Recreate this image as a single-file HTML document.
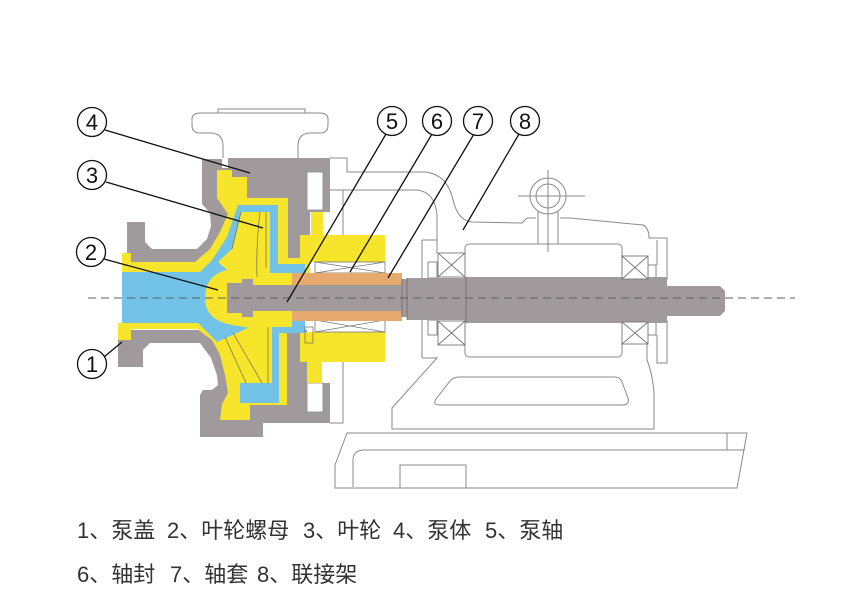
<!DOCTYPE html>
<html><head><meta charset="utf-8"><style>
html,body{margin:0;padding:0;background:#fff;}
svg{display:block}
</style></head><body>
<svg width="846" height="611" viewBox="0 0 846 611" xmlns="http://www.w3.org/2000/svg">
<!-- outlines: flange, frame, base -->
<g fill="none" stroke="#8a8a8a" stroke-width="1">
  <path d="M223,158 L223,146 Q223,134 212,133 L200,133 Q192,133 192,125 L192,119 Q192,113 200,113 L320,113 Q328,113 328,119 L328,125 Q328,133 320,133 L309,133 Q298,134 298,146 L298,158"/>
  <path d="M218,113 L218,109 L305,109 L305,113"/>
  <path d="M330,158 L347,158 L347,172 L425,172 Q447,174 453,200 Q458,221 472,222 L522,223 L527,218 L536,218"/>
  <path d="M560,218 L570,218 L643,225 Q649,228 649,238 L667,238 L667,280"/>
  <path d="M323,190 L417,190 Q435,192 437,215 L437,253"/>
  <path d="M343,190 L343,235"/>
  <path d="M422,240 L437,240 M422,240 L422,358"/>
  <circle cx="548" cy="196" r="18"/>
  <circle cx="548" cy="196" r="12"/>
  <path d="M518,196 L585,196 M548,170 L548,252 M538,211 L538,244 M558,211 L558,244"/>
  <rect x="465" y="244" width="157" height="113" rx="4"/>
  <rect x="428" y="262" width="9" height="16"/>
  <rect x="428" y="320" width="9" height="15"/>
  <rect x="648" y="265" width="8" height="15"/>
  <rect x="648" y="320" width="8" height="15"/>
  <path d="M657,240 L657,265 M657,335 L657,363 L667,363 L667,320"/>
  <path d="M422,358 L437,358 L392,408 L392,429 L654,429 L654,392 Q652,372 647,360 L647,343"/>
  <path d="M450,381 Q453,377 460,377 L615,377 Q620,377 622,382 L628,398 Q630,405 622,405 L440,405 Q432,405 436,399 Z"/>
  <path d="M347,433 L747,433 L737,488 L335,488 L335,465 Z"/>
  <path d="M353,487 L353,460 Q353,450 365,450 L745,450 M727,433 L727,450"/>
  <rect x="400" y="465" width="66" height="23"/>
  <path d="M343,333 L343,423 L330,423"/>
</g>

<!-- pump casing gray -->
<g fill="#a09a9d">
  <path d="M127,222 L145,222 L145,242 L152,249 L197,249 L207,239 L211,226 L210,213 L202,204 L202,159 L222,159 L222,168 L228,168 L228,158 L330,158 L330,212 L310,212 L310,262 L288,262 L288,268 L127,268 Z"/>
  <path d="M118,328 L118,367 L143,367 L143,350 L150,343 L200,343 L211,358 L217,375 L218,385 L212,390 L203,390 L200,395 L200,437 L263,437 L263,423 L330,423 L330,383 L307,383 L307,330 L118,330 Z"/>
</g>
<rect x="307" y="172" width="16" height="38" fill="#fff" stroke="#8a8a8a" stroke-width="0.8"/>
<rect x="307" y="383" width="16" height="29" fill="#fff" stroke="#8a8a8a" stroke-width="0.8"/>

<!-- yellow lining -->
<g fill="#f7e52b">
  <path d="M217,170 L232,170 L232,177 L247,177 L247,198 L288,198 L288,258 L310,258 L310,273 L122,273 L122,253 L131,253 L131,262 L195,262 L210,249 L220,232 L228,214 L217,198 Z"/>
  <path d="M118,323 L305,323 L305,333 L287,333 L287,405 L250,405 L250,420 L220,420 L222,404 L228,393 L225,375 L220,355 L212,340 L197,329 L131,329 L131,340 L118,340 Z"/>
  <rect x="311" y="212" width="12" height="24"/>
  <rect x="300" y="235" width="85" height="27"/>
  <rect x="300" y="332" width="85" height="30"/>
  <rect x="307" y="361" width="15" height="22"/>
</g>

<!-- blue fluid -->
<path fill="#72c2e8" d="M122,272 L200,272 L212,260 L227,237 L238,205 L278,205 L278,264 L305,264 L305,333 L279,333 L279,403 L240,403 L240,383 L272,383 L272,327 L250,327 L217,342 L198,323 L122,323 Z"/>

<!-- impeller + nut yellow -->
<path fill="#f7e52b" d="M241,212 L270,212 L270,273 L292,273 L292,327 L272,327 L272,383 L240,383 L218,343 L250,328 L232,325 Q205,320 205,298 Q205,275 227,270 L218,262 L232,249 Z"/>
<g fill="none" stroke="#6b6b50" stroke-width="0.7">
  <path d="M260,212 Q256,245 257,277"/>
  <path d="M266,212 L266,268"/>
  <path d="M225,337 L246,383"/>
  <path d="M233,333 L262,383"/>
  <path d="M268,327 L268,383"/>
  <path d="M232,249 L241,212"/>
  <rect x="305" y="327" width="8" height="16"/>
</g>

<!-- seal -->
<g fill="#fff" stroke="#777" stroke-width="0.8">
  <rect x="315" y="262" width="70" height="11"/>
  <rect x="315" y="320" width="70" height="12"/>
  <path d="M315,262 L385,273 M315,273 L385,262 M315,320 L385,332 M315,332 L385,320" fill="none"/>
</g>

<!-- sleeve -->
<g fill="#e6aa6e">
  <rect x="292" y="273" width="110" height="12"/>
  <rect x="292" y="311" width="110" height="10"/>
</g>

<!-- shafts -->
<g fill="#a09a9d">
  <path d="M227,283 L242,283 L242,279 L253,279 L253,285 L402,285 L402,311 L253,311 L253,317 L242,317 L242,313 L227,313 Z"/>
  <rect x="402" y="279" width="5" height="38"/>
  <rect x="407" y="278" width="59" height="42"/>
  <rect x="466" y="277" width="201" height="46"/>
  <path d="M667,286 L720,286 L725,291 L725,311 L720,316 L667,316 Z"/>
</g>
<g stroke="#6e686b" stroke-width="0.8" fill="none">
  <path d="M402,279 L402,317 M407,278 L407,320 M466,277 L466,323"/>
</g>

<!-- bearings -->
<g fill="#fff" stroke="#777" stroke-width="0.9">
  <rect x="438" y="253" width="27" height="24"/>
  <rect x="438" y="321" width="27" height="24"/>
  <rect x="622" y="256" width="26" height="23"/>
  <rect x="622" y="322" width="26" height="22"/>
  <path fill="none" d="M438,253 L465,277 M438,277 L465,253 M438,321 L465,345 M438,345 L465,321 M622,256 L648,279 M622,279 L648,256 M622,322 L648,344 M622,344 L648,322"/>
</g>

<!-- centerline -->
<path d="M88,298 L795,298" stroke="#5e5e5e" stroke-width="1" stroke-dasharray="8,5"/>

<!-- leader lines -->
<g stroke="#111" stroke-width="1.3" fill="none">
  <path d="M105,130 L250,173"/>
  <path d="M106,182 L263,228"/>
  <path d="M104,259 L218,290"/>
  <path d="M104,357 L122,342"/>
  <path d="M386,134 L287,302"/>
  <path d="M432,134 L350,272"/>
  <path d="M474,134 L388,278"/>
  <path d="M519,134 L463,230"/>
</g>

<!-- circles -->
<g fill="#fff" stroke="#111" stroke-width="1.3">
  <circle cx="92" cy="122" r="14.5"/>
  <circle cx="92" cy="175" r="14.5"/>
  <circle cx="91" cy="252" r="14.5"/>
  <circle cx="92" cy="364" r="14.5"/>
  <circle cx="392" cy="121" r="14.5"/>
  <circle cx="437" cy="121" r="14.5"/>
  <circle cx="478" cy="121" r="14.5"/>
  <circle cx="525" cy="121" r="14.5"/>
</g>
<g font-family="Liberation Sans, sans-serif" font-size="22" fill="#111" text-anchor="middle">
  <text x="92" y="130">4</text>
  <text x="92" y="183">3</text>
  <text x="91" y="260">2</text>
  <text x="92" y="372">1</text>
  <text x="392" y="129">5</text>
  <text x="437" y="129">6</text>
  <text x="478" y="129">7</text>
  <text x="525" y="129">8</text>
</g>

<!-- legend -->
<g font-family="Liberation Sans, 'Noto Sans CJK SC', sans-serif" font-size="22" fill="#333">
  <text x="77" y="538">1、泵盖</text>
  <text x="167" y="538">2、叶轮螺母</text>
  <text x="303" y="538">3、叶轮</text>
  <text x="393" y="538">4、泵体</text>
  <text x="485" y="538">5、泵轴</text>
  <text x="77" y="582">6、轴封</text>
  <text x="170" y="582">7、轴套</text>
  <text x="257" y="582">8、联接架</text>
</g>
</svg>
</body></html>
